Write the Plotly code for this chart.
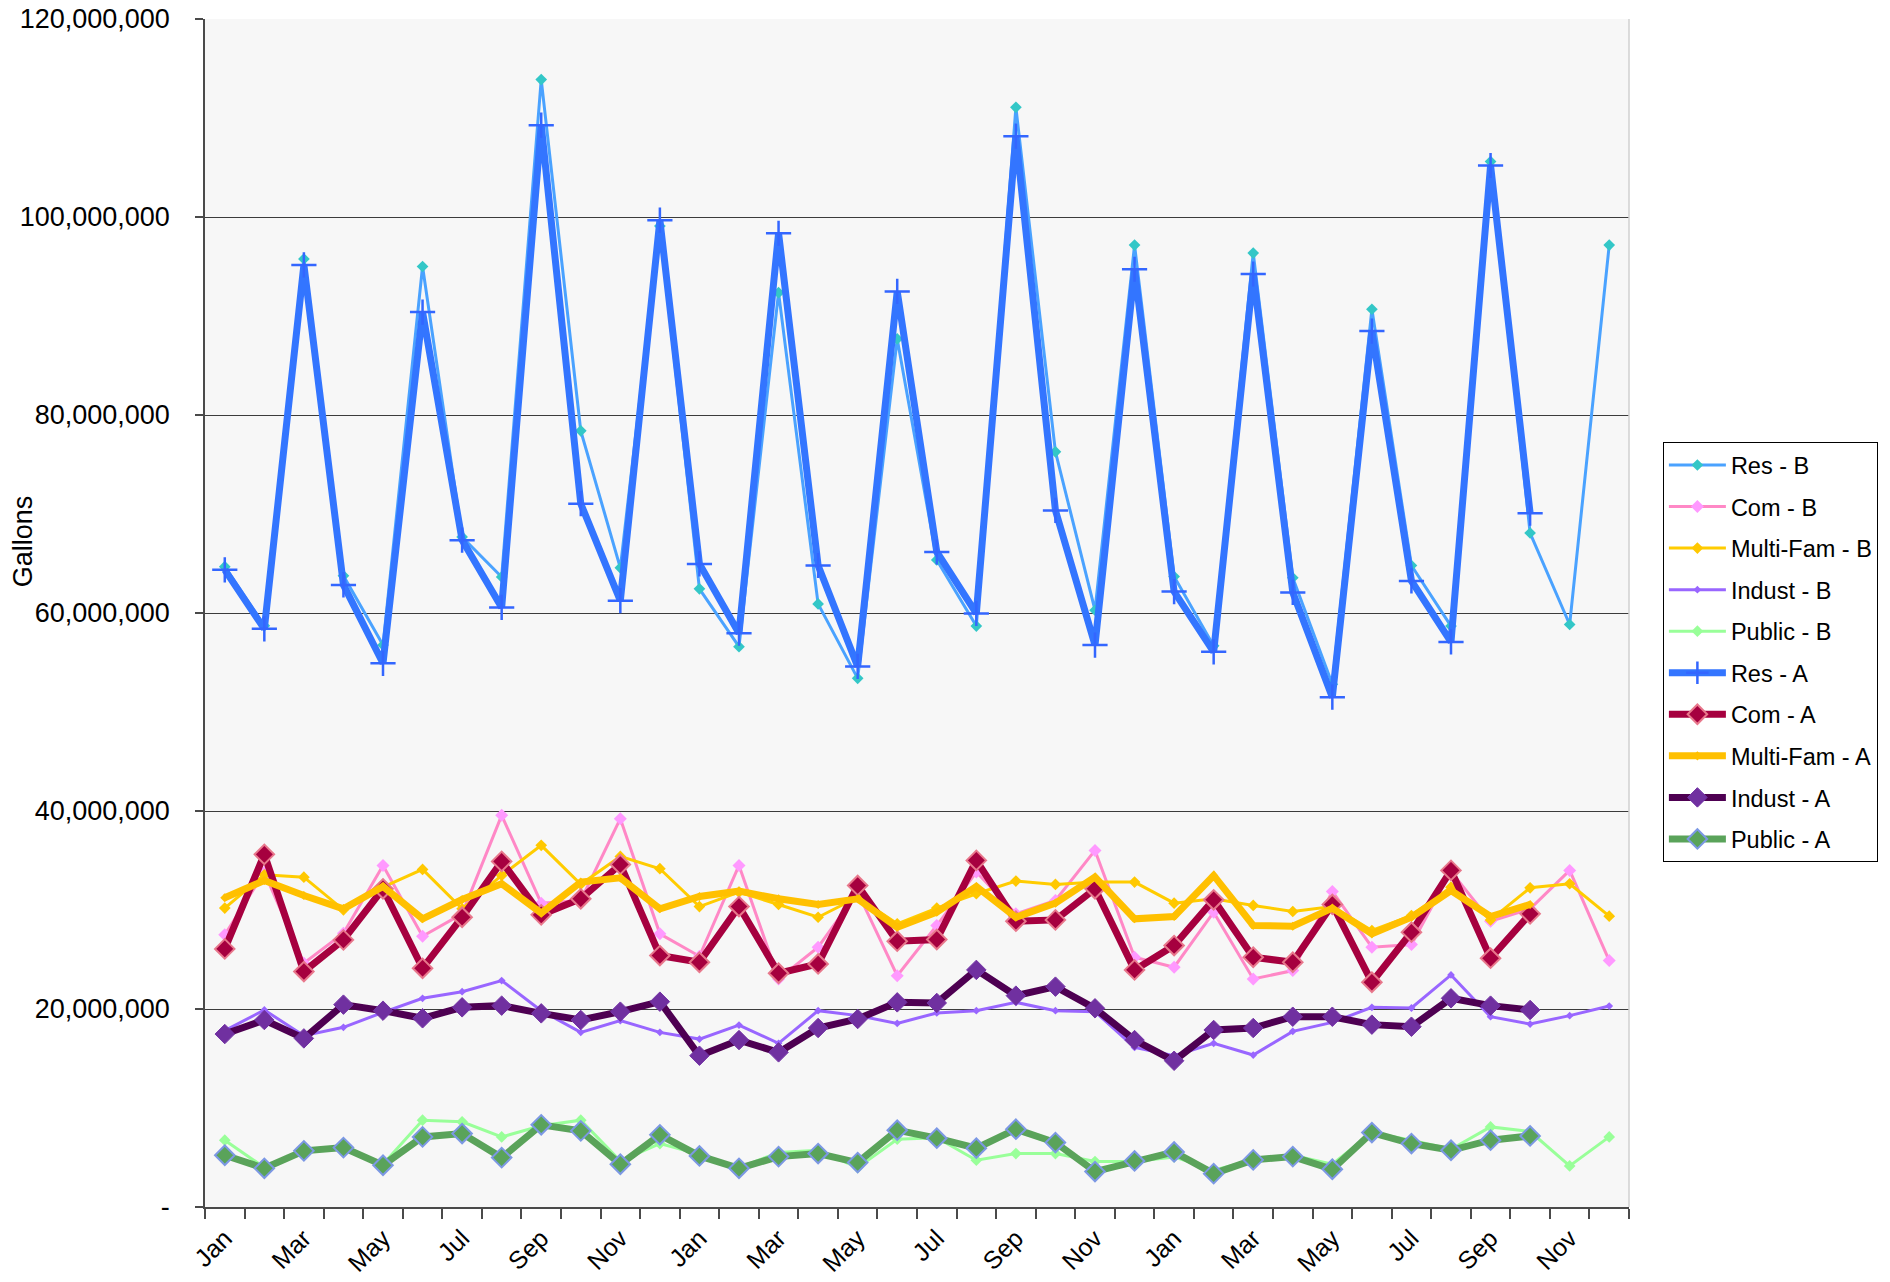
import plotly.graph_objects as go

# Month categories for three consecutive years
months = ["Jan", "Feb", "Mar", "Apr", "May", "Jun",
          "Jul", "Aug", "Sep", "Oct", "Nov", "Dec"] * 3
tick_labels = months[::2]

# Monthly consumption, millions of gallons
res_b = [64.68, 58.7, 95.76, 63.76, 56.76, 95.0, 67.68, 63.64, 113.88, 78.4, 64.56, 99.08,
         62.44, 56.6, 92.36, 60.92, 53.4, 87.68, 65.36, 58.68, 111.08, 76.28, 60.28, 97.16,
         63.68, 56.68, 96.36, 63.56, 52.8, 90.68, 64.8, 58.68, 105.6, 68.08, 58.84, 97.16]
com_b = [27.49, 33.8, 24.62, 27.66, 34.5, 27.35, 29.61, 39.56, 30.69, 30.96, 39.22, 27.59,
         25.33, 34.5, 23.04, 26.24, 31.8, 23.37, 28.43, 33.83, 29.61, 30.96, 36.02, 25.23,
         24.22, 29.78, 23.04, 23.88, 31.87, 26.24, 26.51, 33.9, 28.87, 30.12, 34.0, 24.89]
mf_b = [30.19, 33.56, 33.32, 30.02, 32.31, 34.1, 30.12, 33.49, 36.53, 32.6, 35.41, 34.17,
        30.35, 31.8, 30.56, 29.27, 31.3, 28.6, 30.19, 31.64, 32.92, 32.58, 32.82, 32.82,
        30.69, 31.13, 30.46, 29.85, 30.35, 27.93, 29.44, 32.31, 29.0, 32.24, 32.65, 29.38]
ind_b = [17.81, 19.9, 17.3, 18.15, 19.66, 21.08, 21.75, 22.87, 19.83, 17.64, 18.82, 17.64,
         16.96, 18.38, 16.53, 19.83, 19.33, 18.55, 19.6, 19.83, 20.67, 19.83, 19.73, 16.12,
         15.28, 16.53, 15.35, 17.74, 18.65, 20.17, 20.1, 23.44, 19.22, 18.48, 19.33, 20.3]
pub_b = [6.75, 3.98, 5.67, 6.0, 4.32, 8.77, 8.6, 7.08, 8.2, 8.77, 4.65, 6.41,
         5.33, 3.98, 5.5, 5.73, 3.98, 6.85, 7.0, 4.72, 5.4, 5.4, 4.59, 4.59,
         5.06, 3.71, 4.76, 5.23, 4.32, 7.52, 6.75, 5.83, 8.09, 7.62, 4.15, 7.08]

res_a = [64.36, 58.4, 95.16, 62.84, 54.92, 90.4, 67.36, 60.56, 109.28, 71.04, 61.24, 99.68,
         64.96, 57.96, 98.36, 64.8, 54.6, 92.48, 66.16, 59.96, 108.16, 70.36, 56.76, 94.72,
         62.16, 56.08, 94.24, 62.08, 51.5, 88.48, 63.24, 57.08, 105.2, 70.08]
com_a = [26.07, 35.62, 23.78, 26.98, 32.14, 24.11, 29.27, 34.91, 29.51, 31.13, 34.6, 25.4,
         24.72, 30.35, 23.61, 24.55, 32.48, 26.85, 27.02, 35.01, 28.87, 29.0, 32.14, 23.95,
         26.41, 31.03, 25.23, 24.72, 30.56, 22.7, 27.76, 34.0, 25.13, 29.61]
mf_a = [31.23, 32.98, 31.47, 30.12, 32.38, 29.11, 31.06, 32.65, 29.68, 32.82, 33.25, 30.12,
        31.37, 31.91, 31.13, 30.56, 31.13, 28.26, 29.78, 32.38, 29.27, 30.69, 33.32, 29.11,
        29.34, 33.49, 28.43, 28.36, 30.19, 27.59, 29.27, 31.97, 29.34, 30.56]
ind_a = [17.47, 18.89, 17.03, 20.44, 19.83, 19.06, 20.17, 20.34, 19.56, 18.89, 19.73, 20.74,
         15.28, 16.86, 15.62, 18.08, 18.99, 20.67, 20.61, 23.95, 21.35, 22.26, 20.07, 16.86,
         14.77, 17.88, 18.08, 19.22, 19.22, 18.42, 18.21, 21.08, 20.34, 19.9]
pub_a = [5.23, 3.91, 5.67, 6.0, 4.22, 7.08, 7.42, 4.99, 8.3, 7.69, 4.32, 7.29,
         5.16, 3.91, 5.09, 5.4, 4.49, 7.76, 6.95, 5.94, 7.86, 6.51, 3.58, 4.65,
         5.56, 3.37, 4.76, 5.09, 3.81, 7.52, 6.41, 5.73, 6.75, 7.18]

FONT = "Liberation Sans, Arial, sans-serif"
THIN, THICK = 3, 7

series = [
    ("Res - B", res_b, dict(color="#4AA2FF", width=THIN),
     dict(symbol="diamond", size=9, color="#33C7C7")),
    ("Com - B", com_b, dict(color="#FF88C6", width=THIN),
     dict(symbol="diamond", size=10, color="#FF99FF")),
    ("Multi-Fam - B", mf_b, dict(color="#FFCC00", width=THIN),
     dict(symbol="diamond", size=9, color="#FFC800")),
    ("Indust - B", ind_b, dict(color="#9966FF", width=THIN),
     dict(symbol="diamond", size=6, color="#9966FF")),
    ("Public - B", pub_b, dict(color="#99FF99", width=THIN),
     dict(symbol="diamond", size=9, color="#99FF99")),
    ("Res - A", res_a, dict(color="#3375FF", width=THICK),
     dict(symbol="cross-thin", size=18, color="#3366FF",
          line=dict(color="#3366FF", width=2.5))),
    ("Com - A", com_a, dict(color="#A6003F", width=THICK),
     dict(symbol="diamond", size=15, color="#A6003F",
          line=dict(color="#E8788C", width=2))),
    ("Multi-Fam - A", mf_a, dict(color="#FFC000", width=THICK),
     dict(symbol="diamond", size=7, color="#FFC000")),
    ("Indust - A", ind_a, dict(color="#4E0052", width=THICK),
     dict(symbol="diamond", size=15, color="#7030A0",
          line=dict(color="#7434A6", width=1))),
    ("Public - A", pub_a, dict(color="#5AA35A", width=THICK),
     dict(symbol="diamond", size=15, color="#5AA35A",
          line=dict(color="#7C98E4", width=2))),
]

fig = go.Figure()
for i, (name, vals, line, marker) in enumerate(series):
    fig.add_trace(go.Scatter(
        x=list(range(len(vals))),
        y=[v * 1e6 for v in vals],
        name=name, mode="lines+markers",
        line=line, marker=marker,
        legendgroup=f"g{i}",
    ))

y_ticks = [0, 20e6, 40e6, 60e6, 80e6, 100e6, 120e6]
y_text = ["-"] + [f"{int(v):,}" for v in y_ticks[1:]]

fig.update_layout(
    width=1890, height=1282,
    margin=dict(l=205, r=259, t=19, b=75),
    paper_bgcolor="white",
    plot_bgcolor="#F7F7F7",
    font=dict(family=FONT, color="black"),
    showlegend=True,
    legend=dict(
        x=1.0238, xanchor="left", y=0.467, yanchor="middle",
        bgcolor="white", bordercolor="black", borderwidth=1,
        font=dict(size=23.5, family=FONT), tracegroupgap=8,
        itemwidth=57,
    ),
    xaxis=dict(
        range=[-0.5, len(months) - 0.5],
        automargin=False,
        tickmode="array",
        tickvals=list(range(0, len(months), 2)),
        ticktext=tick_labels,
        tickangle=-45,
        tickfont=dict(size=25, family=FONT),
        ticks="",
        ticklabelstandoff=5,
        showgrid=False, zeroline=False,
        showline=True, linecolor="#4a4a4a", linewidth=1.5,
        minor=dict(tick0=-0.5, dtick=1, ticks="outside", ticklen=10,
                   tickcolor="#4a4a4a", tickwidth=1.5, showgrid=False),
    ),
    yaxis=dict(
        range=[0, 120e6],
        automargin=False,
        tickmode="array", tickvals=y_ticks, ticktext=y_text,
        tickfont=dict(size=27, family=FONT),
        ticks="outside", ticklen=8, tickcolor="#4a4a4a", tickwidth=1.5,
        ticklabelstandoff=20,
        showgrid=True, gridcolor="#3c3c3c", gridwidth=1,
        zeroline=False,
        showline=True, linecolor="#4a4a4a", linewidth=1.5,
    ),
    shapes=[dict(type="line", xref="paper", yref="paper",
                 x0=1, x1=1, y0=0, y1=1,
                 line=dict(color="#d0d0d0", width=1.5))],
    annotations=[dict(
        text="Gallons", textangle=-90,
        xref="paper", yref="paper", x=-0.1276, y=0.5606,
        xanchor="center", yanchor="middle", showarrow=False,
        font=dict(size=27, family=FONT, color="black"),
    )],
)

fig.write_html("out.html")
